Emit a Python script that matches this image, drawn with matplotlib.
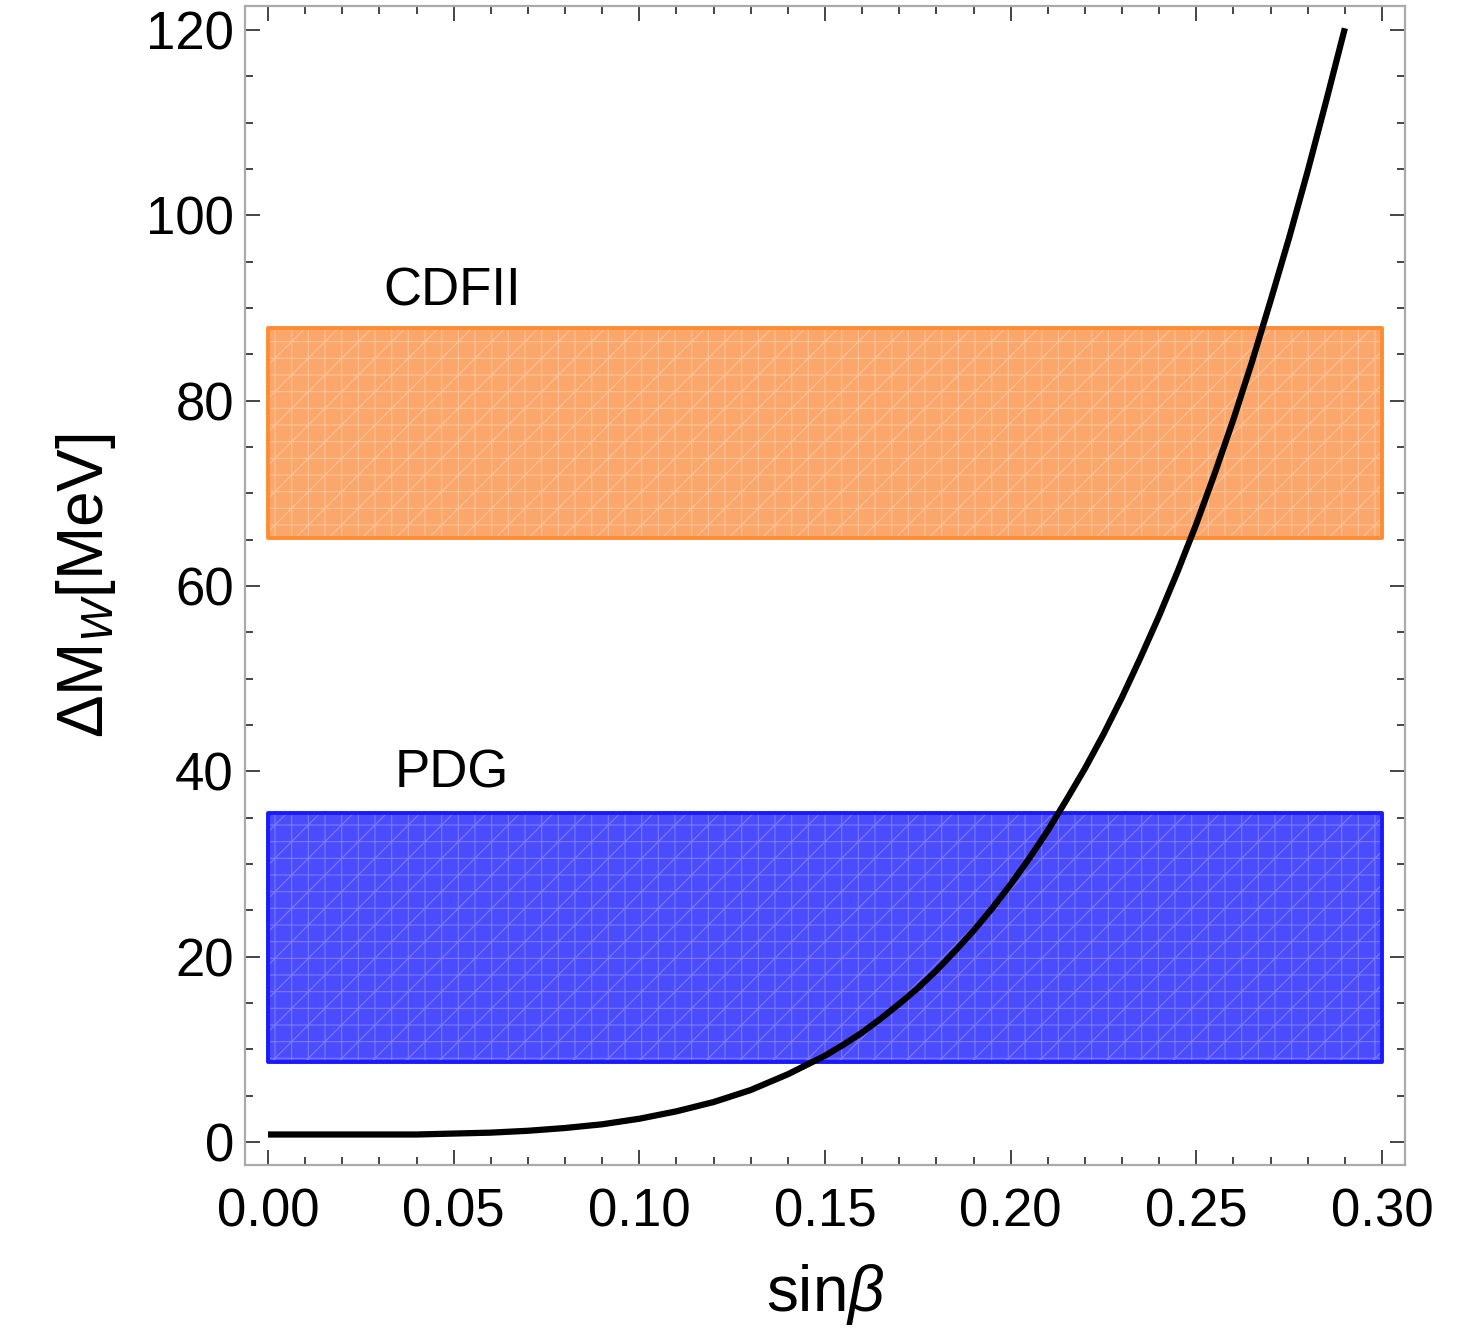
import matplotlib
matplotlib.use("Agg")
import matplotlib.pyplot as plt
from matplotlib.ticker import MultipleLocator

# ==============================
# DATA
# ==============================

sin_beta = [0.00, 0.01, 0.02, 0.03, 0.04, 0.05, 0.06, 0.07, 0.08, 0.09,
            0.10, 0.11, 0.12, 0.13, 0.14, 0.15, 0.155, 0.16, 0.165, 0.17,
            0.175, 0.18, 0.185, 0.19, 0.195, 0.20, 0.205, 0.21, 0.215, 0.22,
            0.225, 0.23, 0.235, 0.24, 0.245, 0.25, 0.255, 0.26, 0.265, 0.27,
            0.275, 0.28, 0.285, 0.29]
delta_mw = [0.8, 0.8, 0.8, 0.8, 0.8, 0.9, 1.0, 1.2, 1.5, 1.9,
            2.5, 3.3, 4.3, 5.6, 7.3, 9.3, 10.5, 11.8, 13.3, 14.9,
            16.6, 18.5, 20.6, 22.8, 25.2, 27.8, 30.6, 33.6, 36.9, 40.3,
            44.0, 48.0, 52.3, 56.8, 61.6, 66.7, 72.2, 78.0, 84.2, 90.8,
            97.6, 104.8, 112.4, 120.2]

band_names = ["CDFII", "PDG"]
band_low = [65.2, 8.6]
band_high = [87.8, 35.5]
band_xrange = [0.0, 0.30]
band_face = ["#fba76b", "#4c4cff"]
band_hatch = ["#fcc29a", "#7a7aff"]
band_edge = ["#ff8c33", "#1a1aff"]
label_pos = [(0.0496, 91.8), (0.0496, 39.8)]

# ==============================
# STYLE
# ==============================

plt.rcParams['font.family'] = ['Liberation Sans', 'DejaVu Sans']
plt.rcParams['mathtext.fontset'] = 'custom'
plt.rcParams['mathtext.rm'] = 'Liberation Sans'
plt.rcParams['mathtext.it'] = 'Liberation Sans:italic'
plt.rcParams['hatch.linewidth'] = 0.8

fig = plt.figure(figsize=(14.81, 13.37), dpi=100)
ax = fig.add_axes([0.1654, 0.1286, 0.9487 - 0.1654, 0.9955 - 0.1286])

# ==============================
# BANDS
# ==============================

for i in range(len(band_names)):
    ax.fill_between(band_xrange, band_low[i], band_high[i],
                    facecolor=band_face[i], edgecolor=band_hatch[i],
                    hatch='+/', linewidth=0, zorder=1)
    ax.fill_between(band_xrange, band_low[i], band_high[i],
                    facecolor='none', edgecolor=band_edge[i],
                    linewidth=2.8, zorder=2)
    ax.text(label_pos[i][0], label_pos[i][1], band_names[i],
            ha='center', va='center', fontsize=38, zorder=3)

# ==============================
# CURVE
# ==============================

ax.plot(sin_beta, delta_mw, color='black', linewidth=4.5,
        solid_capstyle='butt', solid_joinstyle='round', zorder=4)

# ==============================
# AXES
# ==============================

ax.set_xlim(-0.0062, 0.3062)
ax.set_ylim(-2.5, 122.6)

ax.xaxis.set_major_locator(MultipleLocator(0.05))
ax.xaxis.set_minor_locator(MultipleLocator(0.01))
ax.yaxis.set_major_locator(MultipleLocator(20))
ax.yaxis.set_minor_locator(MultipleLocator(5))
ax.xaxis.set_major_formatter(lambda v, p: f"{v:.2f}")
ax.yaxis.set_major_formatter(lambda v, p: f"{v:.0f}")

ax.tick_params(which='both', direction='in', top=True, right=True,
               color='#444444', width=1.4)
ax.tick_params(which='major', length=11, labelsize=38)
ax.tick_params(axis='x', which='major', pad=16)
ax.tick_params(axis='y', which='major', pad=8)
ax.tick_params(which='minor', length=6)

for s in ax.spines.values():
    s.set_color('#aaaaaa')
    s.set_linewidth(1.6)

ax.set_xlabel(r'sin$\it{\beta}$', fontsize=46, labelpad=18)
ax.set_ylabel(r'$\Delta$M$_{\it{W}}$[MeV]', fontsize=46, labelpad=20)

fig.savefig("out.png", dpi=100, facecolor='white')
